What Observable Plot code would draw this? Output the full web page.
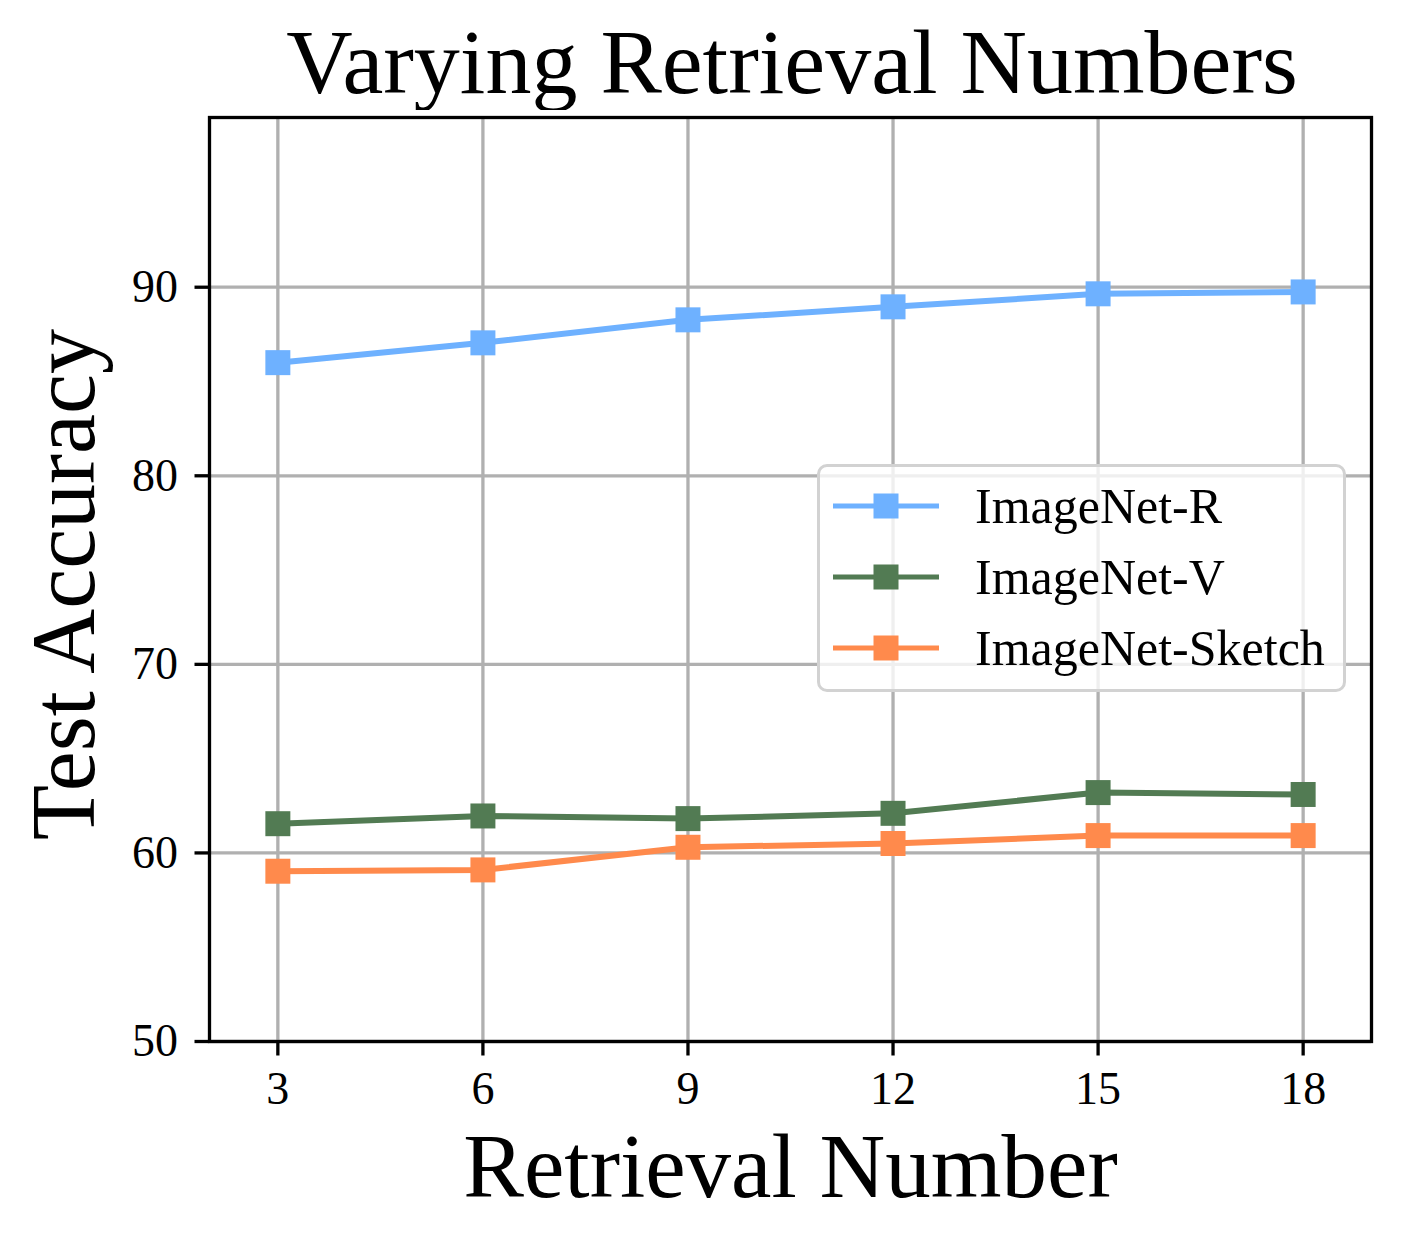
<!DOCTYPE html>
<html>
<head>
<meta charset="utf-8">
<script src="https://cdn.jsdelivr.net/npm/d3@7"></script>
<script src="https://cdn.jsdelivr.net/npm/@observablehq/plot@0.6"></script>
<style>
  html, body { margin: 0; padding: 0; background: white; }
  #wrap { position: relative; width: 1401px; height: 1246px; font-family: "Liberation Serif", "Times New Roman", serif; }
  #title { position: absolute; top: 16px; left: 792px; transform: translateX(-50%); white-space: nowrap; font-size: 92px; line-height: 92px; color: black; }
  #chart { position: absolute; top: 110px; left: 0; }
  #legend { position: absolute; left: 817px; top: 464px; width: 523px; height: 222px; border: 3px solid #d2d2d2; border-radius: 10px; background: rgba(255,255,255,0.8); box-sizing: content-box; }
  .row { position: absolute; left: 0; height: 60px; display: flex; align-items: center; }
  .row svg { margin-left: 13px; }
  .row span { margin-left: 36px; font-size: 50px; color: black; }
</style>
</head>
<body>
<div id="wrap">
  <div id="title"></div>
  <div id="chart"></div>
  <div id="legend"></div>
</div>
<script>
const titleText = "Varying Retrieval Numbers";
const xLabel = "Retrieval Number";
const yLabel = "Test Accuracy";
const retrievalNumbers = [3, 6, 9, 12, 15, 18];
const seriesNames = ["ImageNet-R", "ImageNet-V", "ImageNet-Sketch"];
const accImageNetR = [86.0, 87.05, 88.27, 88.96, 89.65, 89.75];
const accImageNetV = [61.55, 61.96, 61.82, 62.1, 63.2, 63.1];
const accImageNetSketch = [59.03, 59.1, 60.3, 60.5, 60.92, 60.92];
const seriesColors = ["#6eb1ff", "#527b53", "#ff8a4c"];
const yTicks = [50, 60, 70, 80, 90];

const seriesValues = [accImageNetR, accImageNetV, accImageNetSketch];
const data = [];
seriesNames.forEach((name, i) => {
  retrievalNumbers.forEach((x, j) => data.push({series: name, x, y: seriesValues[i][j]}));
});

document.getElementById("title").textContent = titleText;

const font = "Liberation Serif, Times New Roman, serif";
const lw = 3.3;

const plot = Plot.plot({
  width: 1401,
  height: 1136,
  marginLeft: 209,
  marginRight: 30,
  marginTop: 7,
  marginBottom: 95 + 110,
  style: {fontFamily: font, fontSize: "46px", background: "white", color: "black", overflow: "visible"},
  x: {domain: [2, 19], ticks: retrievalNumbers},
  y: {domain: [50, 99], ticks: yTicks},
  color: {domain: seriesNames, range: seriesColors},
  marks: [
    Plot.gridX(retrievalNumbers, {stroke: "#b0b0b0", strokeOpacity: 1, strokeWidth: lw}),
    Plot.gridY(yTicks, {stroke: "#b0b0b0", strokeOpacity: 1, strokeWidth: lw}),
    Plot.line(data, {x: "x", y: "y", z: "series", stroke: "series", strokeWidth: 6}),
    Plot.dot(data, {x: "x", y: "y", fill: "series", symbol: "square", r: 14.1, stroke: null}),
    Plot.frame({stroke: "black", strokeWidth: lw}),
    Plot.axisX(retrievalNumbers, {tickSize: 14.5, tickPadding: 15, fontSize: 46, strokeWidth: lw, label: null}),
    Plot.axisY(yTicks, {tickSize: 14.5, tickPadding: 17, fontSize: 46, strokeWidth: lw, label: null}),
    Plot.text([xLabel], {text: d => d, frameAnchor: "bottom", lineAnchor: "bottom", dy: 155, fontSize: 91, fontFamily: font}),
    Plot.text([yLabel], {text: d => d, frameAnchor: "left", textAnchor: "middle", lineAnchor: "middle", rotate: -90, dx: -144, dy: 5, fontSize: 90, fontFamily: font})
  ]
});
document.getElementById("chart").appendChild(plot);

// legend
const legend = document.getElementById("legend");
const rowCenters = [39, 110, 181];
seriesNames.forEach((name, i) => {
  const row = document.createElement("div");
  row.className = "row";
  row.style.top = (rowCenters[i] - 30) + "px";
  row.innerHTML = `<svg width="106" height="30"><line x1="0" x2="106" y1="15" y2="15" stroke="${seriesColors[i]}" stroke-width="5"/><rect x="40.5" y="2.5" width="25" height="25" fill="${seriesColors[i]}"/></svg><span>${name}</span>`;
  legend.appendChild(row);
});
</script>
</body>
</html>
